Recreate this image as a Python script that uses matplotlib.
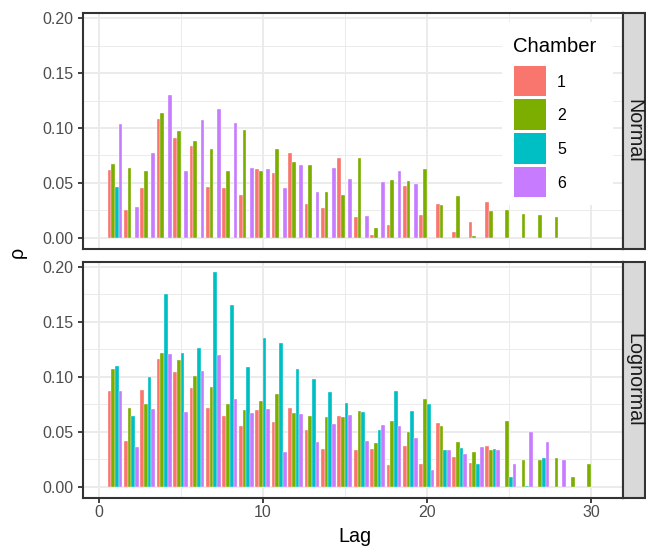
import numpy as np
import matplotlib
matplotlib.use("Agg")
import matplotlib.pyplot as plt
from matplotlib.patches import Rectangle
from matplotlib.ticker import MultipleLocator, FixedLocator

plt.rcParams['font.family'] = ['Liberation Sans', 'DejaVu Sans']

# ---------------- data ----------------
chambers = ["1", "2", "5", "6"]
colors = ["#F8766D", "#7CAE00", "#00BFC4", "#C77CFF"]
facets = ["Normal", "Lognormal"]

normal_c1_lags = list(range(1, 25))
normal_c1 = [0.062, 0.025, 0.045, 0.108, 0.091, 0.084, 0.046, 0.045, 0.039, 0.063,
             0.059, 0.077, 0.031, 0.027, 0.073, 0.019, 0.003, 0.012, 0.047, 0.021,
             0.031, 0.005, 0.014, 0.033]
normal_c2_lags = list(range(1, 29))
normal_c2 = [0.067, 0.064, 0.061, 0.114, 0.097, 0.088, 0.081, 0.061, 0.098, 0.061,
             0.081, 0.069, 0.066, 0.042, 0.039, 0.073, 0.009, 0.053, 0.052, 0.063,
             0.030, 0.038, 0.002, 0.024, 0.025, 0.022, 0.021, 0.019]
normal_c5_lags = [1]
normal_c5 = [0.046]
normal_c6_lags = list(range(1, 20))
normal_c6 = [0.104, 0.028, 0.077, 0.130, 0.061, 0.107, 0.117, 0.105, 0.064, 0.063,
             0.045, 0.066, 0.042, 0.064, 0.054, 0.020, 0.051, 0.061, 0.049]

lognormal_c1_lags = list(range(1, 25))
lognormal_c1 = [0.087, 0.042, 0.088, 0.116, 0.104, 0.090, 0.072, 0.064, 0.055, 0.070,
                0.059, 0.072, 0.052, 0.034, 0.064, 0.033, 0.034, 0.020, 0.037, 0.021,
                0.058, 0.027, 0.022, 0.037]
lognormal_c2_lags = list(range(1, 31))
lognormal_c2 = [0.107, 0.072, 0.075, 0.122, 0.115, 0.101, 0.091, 0.075, 0.070, 0.078,
                0.084, 0.067, 0.064, 0.063, 0.063, 0.069, 0.040, 0.060, 0.050, 0.080,
                0.055, 0.041, 0.032, 0.033, 0.060, 0.024, 0.024, 0.026, 0.009, 0.021]
lognormal_c5_lags = list(range(1, 28))
lognormal_c5 = [0.110, 0.064, 0.100, 0.175, 0.122, 0.126, 0.195, 0.165, 0.109, 0.135,
                0.131, 0.107, 0.098, 0.086, 0.076, 0.068, 0.052, 0.087, 0.069, 0.075,
                0.033, 0.035, 0.021, 0.034, 0.009, 0.001, 0.026]
lognormal_c6_lags = list(range(1, 29))
lognormal_c6 = [0.087, 0.036, 0.071, 0.121, 0.068, 0.105, 0.120, 0.080, 0.067, 0.071,
                0.032, 0.066, 0.041, 0.057, 0.065, 0.042, 0.056, 0.055, 0.044, 0.015,
                0.033, 0.030, 0.036, 0.033, 0.021, 0.050, 0.041, 0.024]

panel_data = {
    "Normal": [(normal_c1_lags, normal_c1), (normal_c2_lags, normal_c2),
               (normal_c5_lags, normal_c5), (normal_c6_lags, normal_c6)],
    "Lognormal": [(lognormal_c1_lags, lognormal_c1), (lognormal_c2_lags, lognormal_c2),
                  (lognormal_c5_lags, lognormal_c5), (lognormal_c6_lags, lognormal_c6)],
}

x_ticks = [0, 10, 20, 30]
y_ticks = [0.00, 0.05, 0.10, 0.15, 0.20]
y_tick_labels = ["0.00", "0.05", "0.10", "0.15", "0.20"]

# ---------------- layout ----------------
W, H = 646, 551
fig = plt.figure(figsize=(W / 100, H / 100), dpi=100)


def px_axes(x0, y0, x1, y1):
    return fig.add_axes([x0 / W, 1 - y1 / H, (x1 - x0) / W, (y1 - y0) / H])


def fxy(x, y):
    return x / W, 1 - y / H


PANEL_L, PANEL_R = 83, 623
panels_y = [(13, 248.5), (261.5, 497.5)]
STRIP_R = 645

dark = "#333333"
grid_col = "#EBEBEB"
n_groups = len(chambers)
total_w = 0.9
bar_w = total_w / n_groups

# shared scale (ggplot default 5% expansion)
all_vals = []
all_lags = []
for f in facets:
    for lg, v in panel_data[f]:
        all_vals += v
        all_lags += lg
ymax = max(all_vals)
ylo, yhi = -0.05 * ymax, ymax * 1.05
xmin_d, xmax_d = min(all_lags) - total_w / 2, max(all_lags) + total_w / 2
xr = xmax_d - xmin_d
xlo, xhi = xmin_d - 0.05 * xr, xmax_d + 0.05 * xr

for pi, facet in enumerate(facets):
    y0, y1 = panels_y[pi]
    ax = px_axes(PANEL_L, y0, PANEL_R, y1)
    ax.set_xlim(xlo, xhi)
    ax.set_ylim(ylo, yhi)
    ax.set_facecolor("white")

    ax.xaxis.set_major_locator(FixedLocator(x_ticks))
    ax.xaxis.set_minor_locator(MultipleLocator(5))
    ax.yaxis.set_major_locator(FixedLocator(y_ticks))
    ax.yaxis.set_minor_locator(MultipleLocator(0.025))
    ax.set_yticklabels(y_tick_labels)
    ax.grid(which="major", color=grid_col, linewidth=1.4, zorder=0)
    ax.grid(which="minor", color=grid_col, linewidth=0.7, zorder=0)
    ax.set_axisbelow(True)

    for gi, (lg, vals) in enumerate(panel_data[facet]):
        offs = (gi - (n_groups - 1) / 2) * bar_w
        xs = np.array(lg, dtype=float) + offs
        ax.bar(xs, vals, width=bar_w, color=colors[gi], edgecolor="white",
               linewidth=0.25, zorder=2)

    for s in ax.spines.values():
        s.set_color(dark)
        s.set_linewidth(1.5)
        s.set_zorder(5)

    ax.tick_params(which="major", axis="both", length=3.6, width=1.3, color=dark,
                   labelcolor="#4D4D4D", labelsize=11.5)
    ax.tick_params(which="minor", length=0)
    ax.tick_params(axis="y", pad=3.5)
    ax.tick_params(axis="x", pad=1.5)
    if pi == 0:
        ax.tick_params(axis="x", which="major", length=0, labelbottom=False)

    # strip
    sax = px_axes(PANEL_R, y0, STRIP_R, y1)
    sax.set_facecolor("#D9D9D9")
    sax.set_xticks([])
    sax.set_yticks([])
    for s in sax.spines.values():
        s.set_color(dark)
        s.set_linewidth(1.5)
    sax.text(0.5, 0.5, facet, rotation=-90, ha="center", va="center",
             fontsize=14.2, color="#1A1A1A", transform=sax.transAxes)

    if pi == 1:
        ax.set_xlabel("")

# axis titles
fig.text(*fxy(355, 542), "Lag", ha="center", va="baseline", fontsize=14.2, color="black")
fig.text(*fxy(17, 252), "ρ", ha="center", va="center", rotation=90, fontsize=14.2,
         color="black")

# legend (inside top panel, ggplot style)
leg_x0, leg_y0, leg_x1, leg_y1 = 502, 22, 613, 205
fig.patches.append(Rectangle(fxy(leg_x0, leg_y1), (leg_x1 - leg_x0) / W,
                             (leg_y1 - leg_y0) / H, transform=fig.transFigure,
                             facecolor="white", edgecolor="none", zorder=6))
fig.text(*fxy(513, 52), "Chamber", ha="left", va="baseline", fontsize=14.6,
         color="black", zorder=7)
key_tops = [65.7, 99.3, 133.0, 166.7]
key_h = 30.5
for gi, lab in enumerate(chambers):
    kt = key_tops[gi]
    fig.patches.append(Rectangle(fxy(514, kt + key_h), 31.5 / W, key_h / H,
                                 transform=fig.transFigure, facecolor=colors[gi],
                                 edgecolor="none", zorder=7))
    fig.text(*fxy(557, kt + key_h / 2 + 5.8), lab, ha="left", va="baseline",
             fontsize=11.5, color="black", zorder=7)

fig.savefig("out.png", dpi=100, facecolor="white")
